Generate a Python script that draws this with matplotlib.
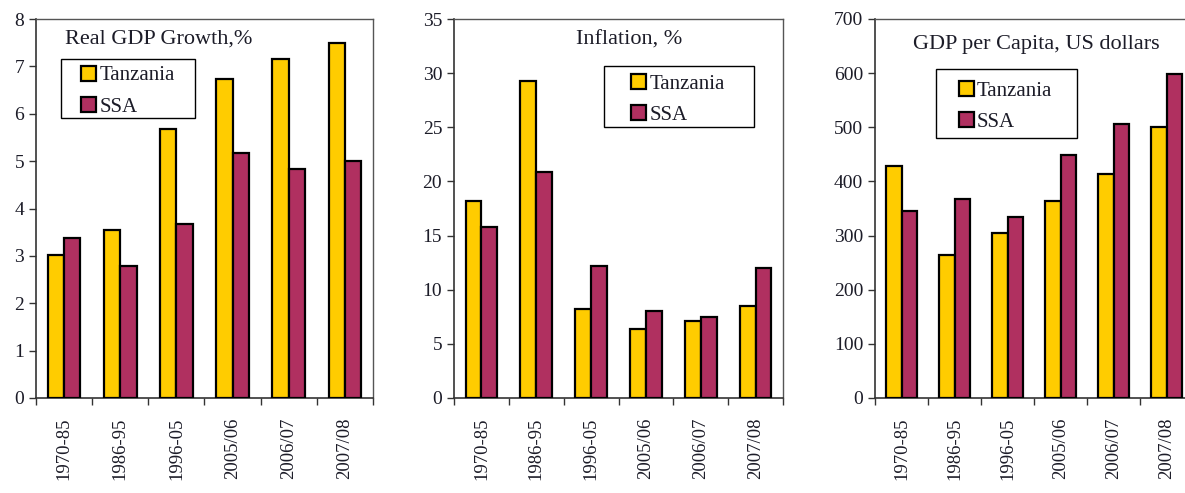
import matplotlib
matplotlib.use("Agg")
import matplotlib.pyplot as plt
import numpy as np
from matplotlib.patches import Rectangle
from matplotlib.legend_handler import HandlerPatch
from matplotlib.container import BarContainer

periods = ["1970-85", "1986-95", "1996-05", "2005/06", "2006/07", "2007/08"]

gdp_growth_tz = [3.02, 3.55, 5.68, 6.73, 7.16, 7.49]
gdp_growth_ssa = [3.37, 2.78, 3.67, 5.18, 4.83, 5.00]

inflation_tz = [18.2, 29.3, 8.2, 6.4, 7.1, 8.5]
inflation_ssa = [15.8, 20.9, 12.2, 8.0, 7.5, 12.0]

gdp_pc_tz = [429, 265, 305, 364, 414, 500]
gdp_pc_ssa = [346, 367, 335, 448, 506, 599]

series_names = ["Tanzania", "SSA"]
titles = ["Real GDP Growth,%", "Inflation, %", "GDP per Capita, US dollars"]
ylims = [(0, 8), (0, 35), (0, 700)]
yticks = [np.arange(0, 9, 1), np.arange(0, 36, 5), np.arange(0, 701, 100)]

YELLOW = "#FFCC00"
MAROON = "#B03060"
TXT = "#1c1c28"

plt.rcParams["font.family"] = ["Liberation Serif", "DejaVu Serif"]

fig = plt.figure(figsize=(11.85, 4.93), dpi=100)

bottom = 1 - 398 / 493
height = (398 - 19) / 493
axes_px = [(36, 373), (454, 783), (875, 1193)]
legend_anchor = [(0.068, 0.890), (0.471, 0.867), (0.192, 0.850)]
legend_frame = [(0.0742, 0.4718, 0.7388, 0.8945), (0.4559, 0.9119, 0.715, 0.876), (0.1918, 0.6352, 0.686, 0.868)]
title_pos = [(0.086, 0.947, "left"), (0.533, 0.945, "center"), (0.506, 0.934, "center")]

data = [(gdp_growth_tz, gdp_growth_ssa), (inflation_tz, inflation_ssa), (gdp_pc_tz, gdp_pc_ssa)]


def square_patch(legend, orig_handle, xdescent, ydescent, width, height, fontsize):
    s = 0.72 * fontsize
    return Rectangle((-xdescent + width - s, -ydescent + (height - s) / 2), s, s)


def update_first(legend_handle, orig_handle):
    legend_handle.update_from(orig_handle[0])


for i, (l, r) in enumerate(axes_px):
    ax = fig.add_axes([l / 1185, bottom, (r - l) / 1185, height])
    tz, ssa = data[i]
    x = np.arange(len(periods))
    w = 0.29
    ax.bar(x - w / 2, tz, width=w, color=YELLOW, edgecolor="black", linewidth=1.6, label=series_names[0], zorder=3)
    ax.bar(x + w / 2, ssa, width=w, color=MAROON, edgecolor="black", linewidth=1.6, label=series_names[1], zorder=3)
    ax.set_xlim(-0.5, len(periods) - 0.5)
    ax.set_ylim(*ylims[i])
    ax.set_yticks(yticks[i])
    ax.set_xticks(np.arange(len(periods) + 1) - 0.5, minor=False)
    ax.set_xticklabels([])
    ax.set_xticks(x, minor=True)
    ax.set_xticklabels(periods, minor=True, rotation=90, fontsize=13.5, color=TXT)
    ax.tick_params(axis="x", which="minor", length=0, pad=14)
    ax.tick_params(axis="x", which="major", length=5, width=1.0, direction="out", color="#333333")
    ax.tick_params(axis="y", length=5, width=1.0, direction="out", labelsize=14, labelcolor=TXT, color="#333333")
    for sp in ["left", "bottom"]:
        ax.spines[sp].set_color("#333333")
        ax.spines[sp].set_linewidth(1.2)
    for sp in ["top", "right"]:
        ax.spines[sp].set_color("#555555")
        ax.spines[sp].set_linewidth(1.0)
    tx, ty, ha = title_pos[i]
    ax.text(tx, ty, titles[i], transform=ax.transAxes, fontsize=16, ha=ha, va="center", color=TXT)
    fx0, fx1, fy0, fy1 = legend_frame[i]
    ax.add_patch(Rectangle((fx0, fy0), fx1 - fx0, fy1 - fy0, transform=ax.transAxes,
                           facecolor="white", edgecolor="black", linewidth=1.0, zorder=5))
    leg = ax.legend(loc="upper left", bbox_to_anchor=legend_anchor[i], borderaxespad=0,
                    fontsize=15, frameon=False,
                    handlelength=1.55, handleheight=0.7, handletextpad=0.15,
                    labelspacing=0.55, borderpad=0.25,
                    handler_map={BarContainer: HandlerPatch(patch_func=square_patch, update_func=update_first)})
    leg.set_zorder(6)
    for t in leg.get_texts():
        t.set_color(TXT)
    for h in leg.legend_handles:
        h.set_linewidth(1.6)

fig.savefig("out.png", dpi=100)
